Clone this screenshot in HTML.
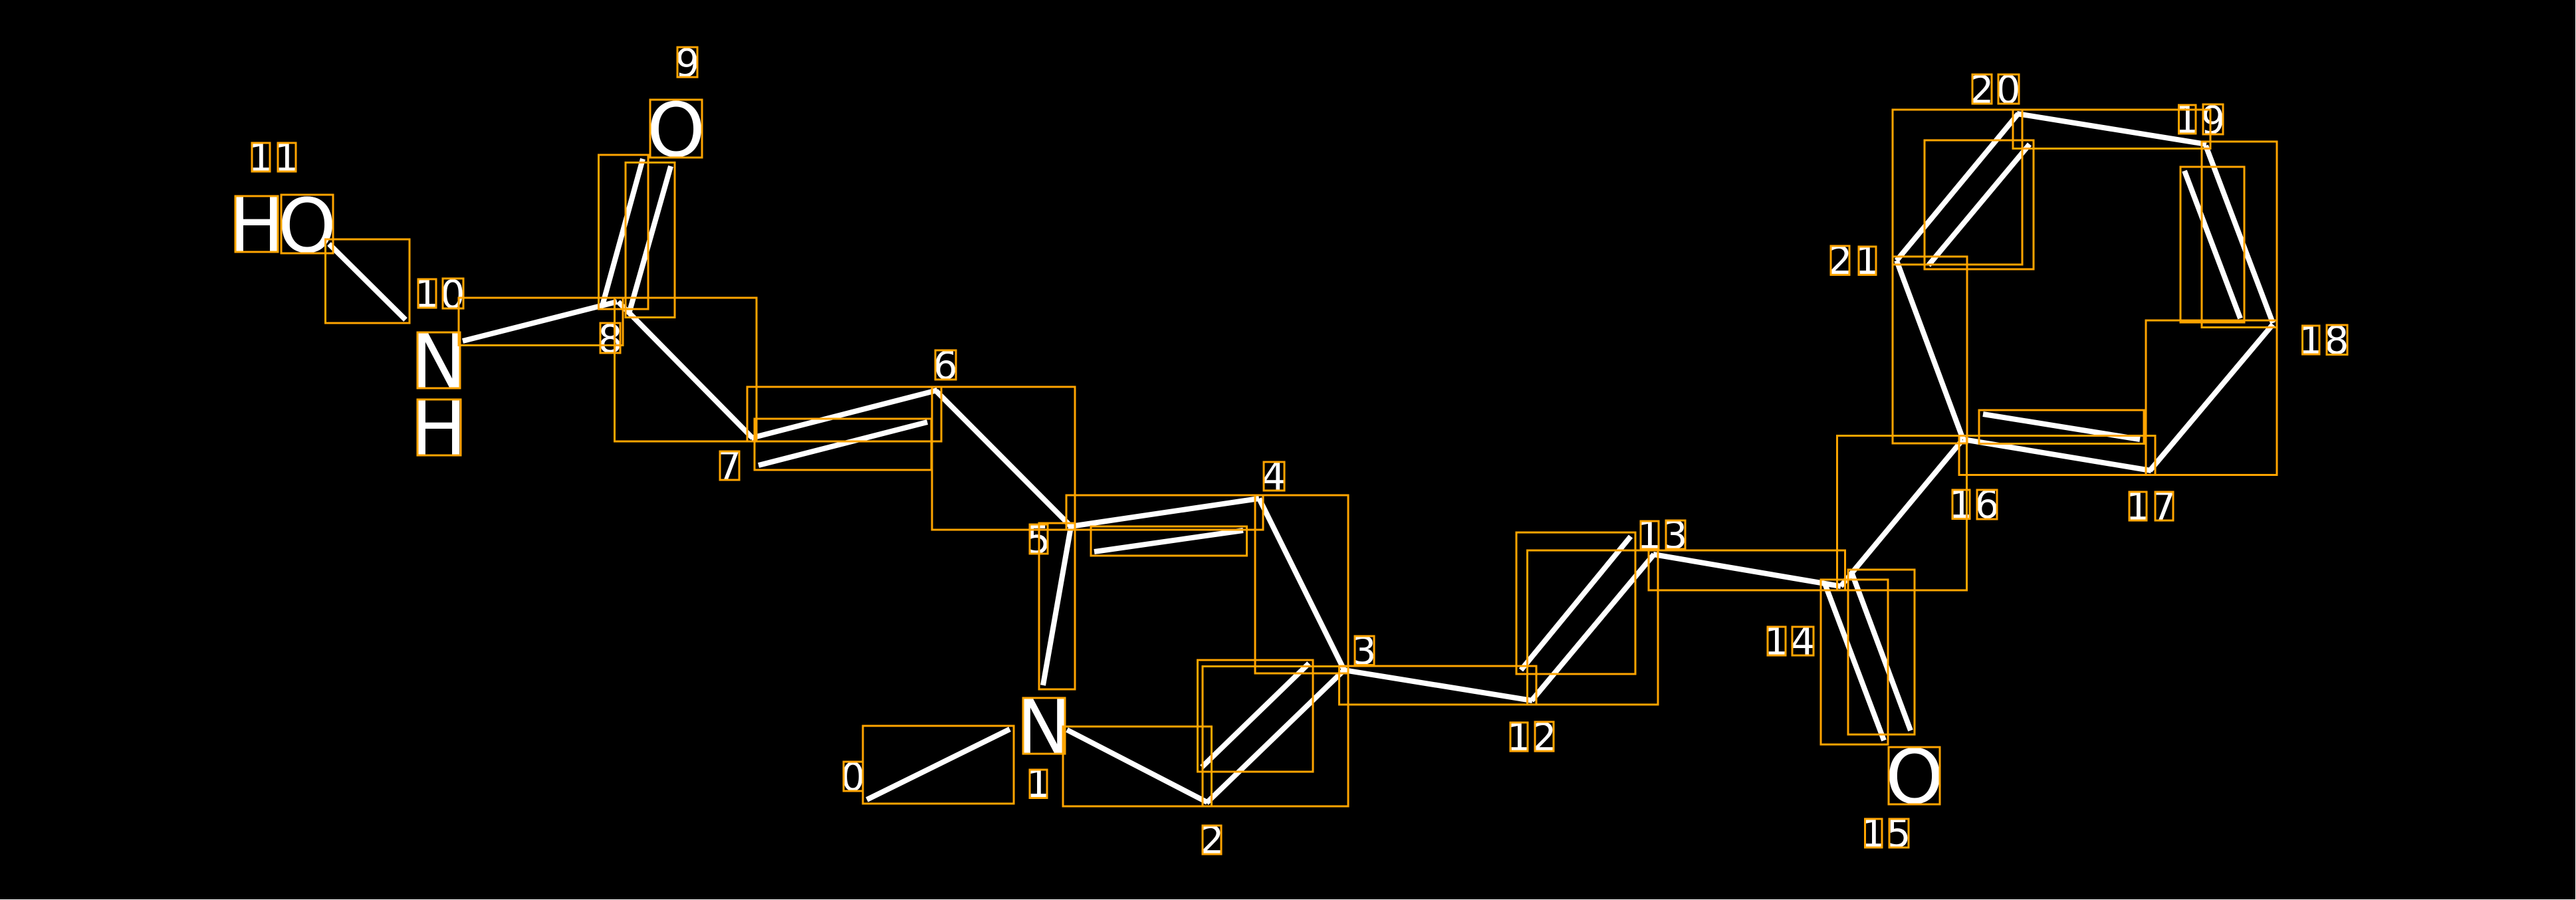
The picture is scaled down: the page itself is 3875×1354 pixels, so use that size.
<!DOCTYPE html>
<html>
<head>
<meta charset="utf-8">
<style>
html,body{margin:0;padding:0;background:#000;}
svg{display:block;}
text{font-family:"DejaVu Sans",sans-serif;fill:#fff;text-anchor:middle;}
.a{font-size:112px;}
.d{font-size:58px;}
</style>
</head>
<body>
<svg xmlns="http://www.w3.org/2000/svg" width="3875" height="1354" viewBox="0 0 3875 1354">
<rect width="3875" height="1354" fill="#000"/>
<rect x="0" y="1353" width="3875" height="1" fill="#fff"/>
<rect x="3874" y="0" width="1" height="1354" fill="#fff"/>

<g stroke="#fff" stroke-width="8" fill="none" stroke-linecap="butt">
<line x1="495" y1="367" x2="610" y2="481"/>
<line x1="696" y1="513" x2="928" y2="454"/>
<line x1="967" y1="239" x2="906" y2="460"/>
<line x1="1009" y1="250" x2="946" y2="472"/>
<line x1="930" y1="454" x2="1132" y2="659"/>
<line x1="1130" y1="659" x2="1410" y2="587"/>
<line x1="1141" y1="700" x2="1395" y2="635"/>
<line x1="1408" y1="588" x2="1611" y2="792"/>
<line x1="1610" y1="792" x2="1894" y2="750"/>
<line x1="1646" y1="830" x2="1870" y2="798"/>
<line x1="1611" y1="792" x2="1569" y2="1031"/>
<line x1="1894" y1="750" x2="2022" y2="1008"/>
<line x1="2022" y1="1008" x2="1815" y2="1208"/>
<line x1="1808" y1="1154" x2="1969" y2="998"/>
<line x1="1605" y1="1098" x2="1816" y2="1207"/>
<line x1="1304" y1="1203" x2="1519" y2="1097"/>
<line x1="2021" y1="1008" x2="2305" y2="1054"/>
<line x1="2304" y1="1054" x2="2488" y2="834"/>
<line x1="2288" y1="1008" x2="2453" y2="807"/>
<line x1="2487" y1="834" x2="2769" y2="882"/>
<line x1="2745" y1="878" x2="2834" y2="1114"/>
<line x1="2786" y1="863" x2="2874" y2="1099"/>
<line x1="2769" y1="882" x2="2952" y2="662"/>
<line x1="2953" y1="661" x2="3236" y2="708"/>
<line x1="2983" y1="623" x2="3219" y2="661"/>
<line x1="3234" y1="708" x2="3419" y2="488"/>
<line x1="3419" y1="486" x2="3318" y2="219"/>
<line x1="3286" y1="257" x2="3370" y2="479"/>
<line x1="3319" y1="217" x2="3034" y2="171"/>
<line x1="3036" y1="171" x2="2853" y2="392"/>
<line x1="2901" y1="399" x2="3053" y2="217"/>
<line x1="2853" y1="392" x2="2953" y2="661"/>
</g>

<g>
<text class="a" x="386" y="378">H</text>
<text class="a" x="462" y="379">O</text>
<text class="a" x="660" y="583">N</text>
<text class="a" x="660" y="684">H</text>
<text class="a" x="1017" y="235">O</text>
<text class="a" x="1570" y="1133">N</text>
<text class="a" x="2880" y="1208">O</text>
<text class="d" x="1283" y="1189">0</text>
<text class="d" x="1562" y="1199">1</text>
<text class="d" x="1823" y="1284">2</text>
<text class="d" x="2052" y="999">3</text>
<text class="d" x="1916" y="737">4</text>
<text class="d" x="1562" y="832">5</text>
<text class="d" x="1422" y="570">6</text>
<text class="d" x="1097" y="721">7</text>
<text class="d" x="918" y="530">8</text>
<text class="d" x="1034" y="115">9</text>
<text class="d" x="642" y="462">1</text>
<text class="d" x="681" y="463">0</text>
<text class="d" x="392" y="257">1</text>
<text class="d" x="431" y="257">1</text>
<text class="d" x="2285" y="1129">1</text>
<text class="d" x="2323" y="1129">2</text>
<text class="d" x="2481" y="825">1</text>
<text class="d" x="2520" y="825">3</text>
<text class="d" x="2672" y="985">1</text>
<text class="d" x="2712" y="985">4</text>
<text class="d" x="2818" y="1274">1</text>
<text class="d" x="2856" y="1274">5</text>
<text class="d" x="2950" y="779">1</text>
<text class="d" x="2989" y="779">6</text>
<text class="d" x="3216" y="782">1</text>
<text class="d" x="3255" y="782">7</text>
<text class="d" x="3476" y="532">1</text>
<text class="d" x="3515" y="532">8</text>
<text class="d" x="3290" y="200">1</text>
<text class="d" x="3329" y="201">9</text>
<text class="d" x="2981" y="155">2</text>
<text class="d" x="3021" y="155">0</text>
<text class="d" x="2768" y="412">2</text>
<text class="d" x="2809" y="412">1</text>
</g>

<g stroke="#FFA500" stroke-width="3" fill="none">
<rect x="489.5" y="360" width="126.5" height="126"/>
<rect x="690" y="448" width="247" height="71.5"/>
<rect x="900.5" y="233" width="74.5" height="232"/>
<rect x="941" y="244.5" width="74" height="233"/>
<rect x="924.5" y="448" width="213.5" height="216"/>
<rect x="1124" y="582" width="292" height="82"/>
<rect x="1135" y="630" width="266" height="77"/>
<rect x="1402" y="582" width="215" height="215"/>
<rect x="1604" y="745" width="296" height="52"/>
<rect x="1641" y="792" width="234.5" height="44"/>
<rect x="1563" y="787" width="54" height="250"/>
<rect x="1888" y="745" width="140" height="268"/>
<rect x="1809" y="1002.5" width="219" height="210.5"/>
<rect x="1801.5" y="993" width="173.5" height="168"/>
<rect x="1599" y="1093" width="223.5" height="120"/>
<rect x="1298" y="1092" width="227" height="117"/>
<rect x="2014.5" y="1002" width="296.5" height="58"/>
<rect x="2297.5" y="828" width="196.5" height="232"/>
<rect x="2281" y="801" width="179" height="213"/>
<rect x="2480" y="828" width="295.5" height="60"/>
<rect x="2739" y="872" width="101" height="248"/>
<rect x="2780" y="857" width="100" height="248"/>
<rect x="2763.5" y="655.5" width="195" height="232.5"/>
<rect x="2947" y="655.5" width="295" height="59"/>
<rect x="2977" y="617" width="248" height="50.5"/>
<rect x="3228" y="482" width="197" height="232.5"/>
<rect x="3312" y="213" width="113" height="279.5"/>
<rect x="3280" y="251" width="96" height="234"/>
<rect x="3028" y="165" width="297" height="58.5"/>
<rect x="2847" y="165" width="195" height="233"/>
<rect x="2895" y="211" width="164" height="194"/>
<rect x="2847" y="386" width="112" height="281"/>
<rect x="354" y="295" width="64" height="84"/>
<rect x="423" y="293" width="78" height="88"/>
<rect x="628" y="500" width="64" height="84"/>
<rect x="628" y="601" width="65" height="84"/>
<rect x="978" y="150" width="78" height="87"/>
<rect x="1539" y="1050" width="63" height="84"/>
<rect x="2841" y="1124" width="77" height="86"/>
<rect x="1269" y="1146" width="29" height="44"/>
<rect x="1549" y="1158" width="26" height="42.5"/>
<rect x="1809" y="1242" width="28" height="43"/>
<rect x="2038" y="957" width="29" height="43.5"/>
<rect x="1901" y="695" width="31" height="43"/>
<rect x="1549" y="789" width="27" height="44"/>
<rect x="1407" y="527" width="31" height="44"/>
<rect x="1083" y="679" width="29" height="43"/>
<rect x="903" y="486" width="30" height="45"/>
<rect x="1019" y="71" width="30" height="45"/>
<rect x="629" y="420" width="27" height="43"/>
<rect x="666" y="419" width="31" height="45"/>
<rect x="379" y="215" width="27" height="43"/>
<rect x="418" y="215" width="27" height="43"/>
<rect x="2272" y="1087" width="26" height="43"/>
<rect x="2309" y="1086" width="28" height="44"/>
<rect x="2468" y="784" width="27" height="42"/>
<rect x="2506" y="783" width="29" height="43"/>
<rect x="2659" y="943" width="27" height="43"/>
<rect x="2696" y="943" width="32" height="43"/>
<rect x="2805.5" y="1232" width="25.5" height="43"/>
<rect x="2842" y="1232" width="29" height="43"/>
<rect x="2937" y="737" width="26" height="43.5"/>
<rect x="2974" y="737" width="30" height="44"/>
<rect x="3203" y="740" width="26" height="43"/>
<rect x="3242" y="740" width="27" height="43"/>
<rect x="3463.5" y="490" width="25.5" height="43"/>
<rect x="3500" y="489" width="31" height="44.5"/>
<rect x="3277.5" y="158" width="25.5" height="43"/>
<rect x="3314" y="157" width="30" height="45"/>
<rect x="2967" y="112" width="29" height="44"/>
<rect x="3006" y="112" width="31" height="44"/>
<rect x="2754" y="370" width="28" height="43.5"/>
<rect x="2796" y="371" width="26" height="42.5"/>
</g>
</svg>
</body>
</html>
